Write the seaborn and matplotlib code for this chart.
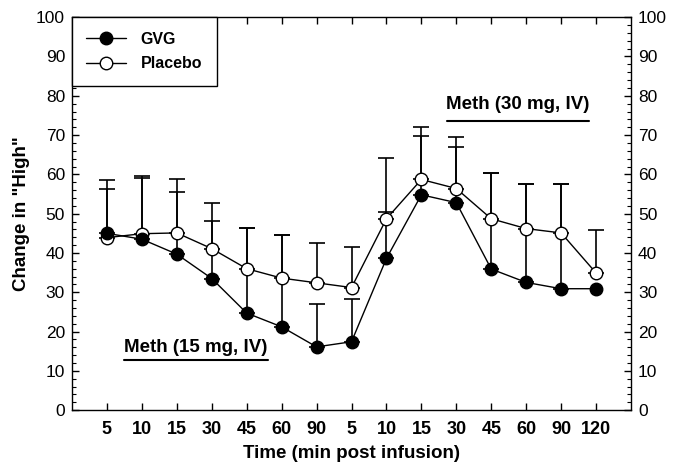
import numpy as np
import pandas as pd
import matplotlib
matplotlib.use("Agg")
import matplotlib.pyplot as plt
import seaborn as sns
from matplotlib.ticker import MultipleLocator

time_labels = ["5", "10", "15", "30", "45", "60", "90", "5", "10", "15", "30", "45", "60", "90", "120"]
gvg_mean = [45.0, 43.5, 39.7, 33.5, 24.7, 21.2, 16.1, 17.4, 38.6, 54.8, 52.8, 35.9, 32.5, 30.9, 30.9]
placebo_mean = [43.9, 44.9, 45.1, 41.1, 36.0, 33.6, 32.4, 31.2, 48.7, 58.7, 56.4, 48.7, 46.2, 45.1, 34.9]
gvg_upper = [56.4, 59.1, 55.4, 48.1, 46.4, 44.5, 26.9, 28.4, 64.2, 69.7, 66.9, 60.4, 57.6, 57.6, np.nan]
placebo_upper = [58.5, 59.5, 58.9, 52.8, 46.4, 44.5, 42.5, 41.5, 50.4, 72.0, 69.4, 60.4, 57.6, 57.6, 45.8]

sns.set_theme(style="ticks")
plt.rcParams['font.family'] = ['Liberation Sans', 'DejaVu Sans']
plt.rcParams.update({"text.color": "black", "axes.labelcolor": "black",
                     "xtick.color": "black", "ytick.color": "black",
                     "axes.edgecolor": "black"})

fig = plt.figure(figsize=(6.83, 4.65), dpi=100)
ax = fig.add_axes([0.1054, 0.118, 0.8185, 0.845])

idx = np.arange(len(time_labels))
df = pd.DataFrame({
    "idx": np.concatenate([idx, idx]),
    "value": gvg_mean + placebo_mean,
    "group": ["GVG"] * len(idx) + ["Placebo"] * len(idx),
})

# error bars (upper only)
for mean, upper in [(gvg_mean, gvg_upper), (placebo_mean, placebo_upper)]:
    m = np.array(mean)
    u = np.array(upper)
    err = np.where(np.isnan(u), 0, u - m)
    ok = ~np.isnan(u)
    ax.errorbar(idx[ok], m[ok], yerr=[np.zeros(ok.sum()), err[ok]], fmt="none",
                ecolor="black", elinewidth=1.2, capsize=6, capthick=1.2, zorder=1)

sns.lineplot(data=df[df.group == "Placebo"], x="idx", y="value", ax=ax, color="black",
             linewidth=1.0, marker="o", markersize=9, markerfacecolor="white",
             markeredgecolor="black", markeredgewidth=1.0, label="Placebo", zorder=3)
sns.lineplot(data=df[df.group == "GVG"], x="idx", y="value", ax=ax, color="black",
             linewidth=1.0, marker="o", markersize=9, markerfacecolor="black",
             markeredgecolor="black", markeredgewidth=1.0, label="GVG", zorder=4)

ax.set_xlim(-1, 15)
ax.set_ylim(0, 100)
ax.set_xticks(idx)
ax.set_xticklabels(time_labels, fontweight="bold", fontsize=13, color="black")
ax.yaxis.set_major_locator(MultipleLocator(10))
ax.yaxis.set_minor_locator(MultipleLocator(2))
ax.tick_params(axis="y", which="both", direction="in", left=True, right=True,
               labelleft=True, labelright=True, labelsize=12.5, colors="black")
ax.tick_params(axis="y", which="major", length=5, width=1, pad=5)
ax.tick_params(axis="y", which="minor", length=3, width=0.8)
ax.tick_params(axis="x", which="major", direction="in", top=True, bottom=True, length=5, width=1,
               colors="black", pad=8)
for s in ax.spines.values():
    s.set_visible(True)
    s.set_color("black")
    s.set_linewidth(1.0)

ax.set_xlabel("Time (min post infusion)", fontweight="bold", fontsize=13.5, color="black", labelpad=5)
ax.set_ylabel('Change in "High"', fontweight="bold", fontsize=13.5, color="black", labelpad=4)

# annotations
ax.text(2.55, 16.0, "Meth (15 mg, IV)", ha="center", va="center", fontweight="bold",
        fontsize=13.5, color="black")
ax.plot([0.49, 4.6], [12.7, 12.7], color="black", linewidth=1.5)
ax.text(11.76, 77.8, "Meth (30 mg, IV)", ha="center", va="center", fontweight="bold",
        fontsize=13.5, color="black")
ax.plot([9.72, 13.8], [73.5, 73.5], color="black", linewidth=1.5)

handles, labels = ax.get_legend_handles_labels()
order = [labels.index("GVG"), labels.index("Placebo")]
leg = ax.legend([handles[i] for i in order], [labels[i] for i in order], loc="upper left",
                frameon=True, fancybox=False, edgecolor="black", framealpha=1,
                prop={"weight": "bold", "size": 11.5}, borderaxespad=0, handlelength=2.5,
                borderpad=0.9, labelspacing=0.6, handletextpad=0.9)
leg.get_frame().set_linewidth(1.0)
for t in leg.get_texts():
    t.set_color("black")

fig.savefig("out.png", dpi=100)
